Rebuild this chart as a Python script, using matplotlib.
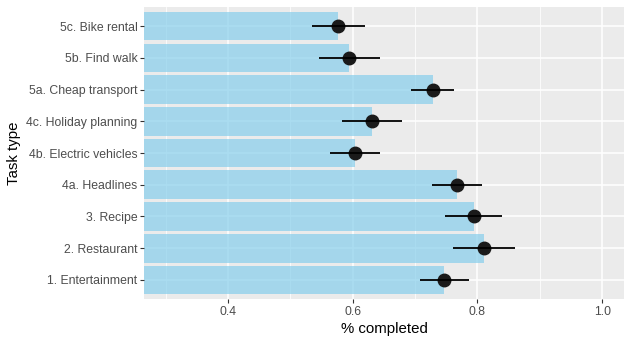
import numpy as np
import matplotlib.pyplot as plt

# task types, top to bottom as shown
tasks = ["5c. Bike rental", "5b. Find walk", "5a. Cheap transport",
         "4c. Holiday planning", "4b. Electric vehicles", "4a. Headlines",
         "3. Recipe", "2. Restaurant", "1. Entertainment"]
completed = [0.576, 0.594, 0.729, 0.631, 0.604, 0.767, 0.794, 0.810, 0.747]
ci_low = [0.535, 0.546, 0.693, 0.582, 0.563, 0.727, 0.748, 0.761, 0.708]
ci_high = [0.619, 0.643, 0.763, 0.679, 0.643, 0.807, 0.840, 0.860, 0.786]

xticks = [0.4, 0.6, 0.8, 1.0]
xminor = [0.3, 0.5, 0.7, 0.9]

plt.rcParams['font.family'] = ['Liberation Sans', 'DejaVu Sans']

fig = plt.figure(figsize=(6.32, 3.45), dpi=100)
ax = fig.add_axes([0.2278, 0.1333, 0.9873 - 0.2278, 0.9797 - 0.1333])
ax.set_facecolor('#ebebeb')

y = np.arange(len(tasks))[::-1]

# grid, ggplot style
for v in xticks:
    ax.axvline(v, color='white', lw=1.1, zorder=0)
for v in xminor:
    ax.axvline(v, color='white', lw=0.55, zorder=0)
for v in y:
    ax.axhline(v, color='white', lw=1.1, zorder=0)

ax.barh(y, completed, height=0.9, color='skyblue', alpha=0.7, zorder=1)
ax.plot(completed, y, 'o', color='#1a1a1a', markersize=9, zorder=2)
ax.hlines(y, ci_low, ci_high, color='black', lw=1.3, zorder=3)

ax.set_xlim(0.265, 1.035)
ax.set_ylim(-0.6, len(tasks) - 0.4)
ax.set_xticks(xticks)
ax.set_xticklabels([f"{v:.1f}" for v in xticks])
ax.set_yticks(y)
ax.set_yticklabels(tasks)
ax.tick_params(colors='#333333', labelcolor='#4d4d4d', labelsize=8.8,
               length=2.7, width=0.8, pad=2)
for s in ax.spines.values():
    s.set_visible(False)

ax.set_xlabel("% completed", fontsize=10.8, color='black', labelpad=3)
ax.set_ylabel("Task type", fontsize=10.8, color='black', labelpad=4)

fig.savefig("out.png", dpi=100)
